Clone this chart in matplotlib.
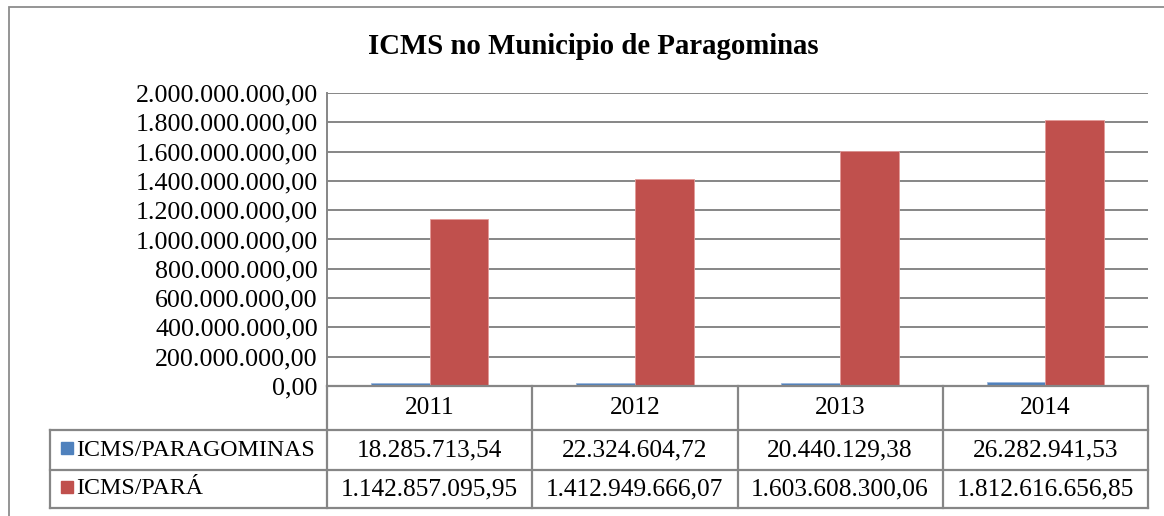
import matplotlib
matplotlib.use("Agg")
import matplotlib.pyplot as plt
from matplotlib.ticker import FuncFormatter, MultipleLocator
from matplotlib.lines import Line2D
from matplotlib.patches import Rectangle

# ---- data ----
years = ["2011", "2012", "2013", "2014"]
series_names = ["ICMS/PARAGOMINAS", "ICMS/PARÁ"]
icms_paragominas = [18285713.54, 22324604.72, 20440129.38, 26282941.53]
icms_para = [1142857095.95, 1412949666.07, 1603608300.06, 1812616656.85]
title = "ICMS no Municipio de Paragominas"

colors = ["#4F81BD", "#C0504D"]
edge_colors = ["#9BB7DD", "#E39A98"]
grid_color = "#868686"
FONT = "Liberation Serif"

W, H = 1164, 516
fig = plt.figure(figsize=(W / 100, H / 100), dpi=100)

def fx(px):
    return px / W

def fy(py):
    return 1 - py / H

# outer chart frame
fig.add_artist(Rectangle((fx(9), fy(600)), fx(1200), fy(7) - fy(600),
                         transform=fig.transFigure, fill=False,
                         edgecolor="#8C8C8C", linewidth=1.3))

# plot area
left, right, top, bottom = 327, 1148, 93, 386
ax = fig.add_axes([fx(left), fy(bottom), fx(right - left), fy(top) - fy(bottom)])

def br_fmt(v, pos=None):
    s = f"{v:,.2f}"
    return s.replace(",", "X").replace(".", ",").replace("X", ".")

n = len(years)
xs = list(range(n))
bw = 1 / 3.5
ax.bar([x - bw / 2 for x in xs], icms_paragominas, width=bw, color=colors[0],
       edgecolor=edge_colors[0], linewidth=0.6, zorder=3)
ax.bar([x + bw / 2 for x in xs], icms_para, width=bw, color=colors[1],
       edgecolor=edge_colors[1], linewidth=0.6, zorder=3)

ax.set_xlim(-0.5, n - 0.5)
ax.set_ylim(0, 2e9)
ax.yaxis.set_major_locator(MultipleLocator(2e8))
ax.yaxis.set_major_formatter(FuncFormatter(br_fmt))
ax.grid(axis="y", color=grid_color, linewidth=1.4, zorder=0)
ax.set_xticks([])
ax.tick_params(axis="y", length=0, pad=6.5, labelsize=18.7)
for lab in ax.get_yticklabels():
    lab.set_fontfamily(FONT)
for s in ["top", "right", "bottom"]:
    ax.spines[s].set_visible(False)
ax.spines["left"].set_color(grid_color)
ax.spines["left"].set_linewidth(1.4)

fig.text(fx(593), fy(46), title, ha="center", va="center",
         fontsize=20.7, fontweight="bold", family=FONT)

# ---- data table ----
tab_left, row_y = 50, [386, 430, 470, 508]
col_w = (right - left) / n
col_edges = [left + i * col_w for i in range(n + 1)]
lkw = dict(color=grid_color, linewidth=1.6, transform=fig.transFigure)
# horizontal lines
fig.add_artist(Line2D([fx(left), fx(right)], [fy(row_y[0])] * 2, **lkw))
for yy in row_y[1:]:
    fig.add_artist(Line2D([fx(tab_left), fx(right)], [fy(yy)] * 2, **lkw))
# vertical lines
fig.add_artist(Line2D([fx(tab_left)] * 2, [fy(row_y[1]), fy(row_y[3])], **lkw))
for xe in col_edges:
    fig.add_artist(Line2D([fx(xe)] * 2, [fy(row_y[0]), fy(row_y[3])], **lkw))

tsize = 18.3
for i, yr in enumerate(years):
    cx = (col_edges[i] + col_edges[i + 1]) / 2
    fig.text(fx(cx), fy((row_y[0] + row_y[1]) / 2), yr, ha="center", va="center",
             fontsize=tsize, family=FONT)
    for r, vals in enumerate([icms_paragominas, icms_para]):
        fig.text(fx(cx), fy((row_y[r + 1] + row_y[r + 2]) / 2), br_fmt(vals[i]),
                 ha="center", va="center", fontsize=tsize, family=FONT)

for r, name in enumerate(series_names):
    cy = (row_y[r + 1] + row_y[r + 2]) / 2
    fig.add_artist(Rectangle((fx(61), fy(cy + 4)), fx(12), fy(cy - 8) - fy(cy + 4),
                             transform=fig.transFigure, color=colors[r]))
    fig.text(fx(76), fy(cy), name, ha="left", va="center", fontsize=17.2, family=FONT)

fig.savefig("out.png", dpi=100, facecolor="white")
